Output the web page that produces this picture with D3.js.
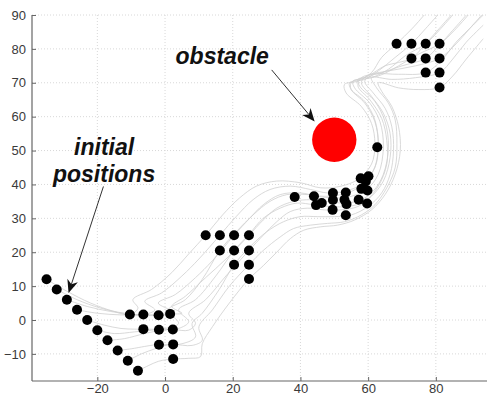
<!DOCTYPE html>
<html>
<head>
<meta charset="utf-8">
<script src="https://cdn.jsdelivr.net/npm/d3@7"></script>
<style>
  html, body { margin: 0; padding: 0; background: #fff; overflow: hidden; }
  svg { display: block; }
  .tick-label { font-family: "Liberation Sans", Arial, sans-serif; font-size: 13px; fill: #3a3a3a; }
  .note { font-family: "Liberation Sans", Arial, sans-serif; font-size: 23px; font-weight: bold; font-style: italic; fill: #111; }
</style>
</head>
<body>
<svg id="chart" width="487" height="396"></svg>
<script>
// Axis ticks
const xTicks = [-20, 0, 20, 40, 60, 80];
const yTicks = [-10, 0, 10, 20, 30, 40, 50, 60, 70, 80, 90];

// Initial positions (diagonal line of agents)
const initialX = [-35, -32, -29, -26, -23, -20, -17, -14, -11, -8];
const initialY = [12, 9, 6, 3, 0, -3, -6, -9, -12, -15];

// First formation
const form1X = [-10.4, -6.4, -1.9, 1.5, -6.4, -1.8, 2.3, -1.8, 2.4, 2.4];
const form1Y = [1.6, 1.6, 1.4, 1.8, -2.7, -2.9, -2.8, -7.3, -7.2, -11.5];

// Second formation
const form2X = [12.0, 16.2, 20.4, 24.8, 16.2, 20.4, 24.8, 20.4, 24.8, 24.8];
const form2Y = [25.0, 25.0, 25.0, 25.0, 20.5, 20.5, 20.5, 16.3, 16.3, 12.1];

// Agents spread out while passing the obstacle
const passX = [38.3, 44.0, 44.6, 46.3, 49.6, 49.6, 49.5, 53.4, 53.0, 53.6, 53.4, 57.2, 59.7, 58.0, 59.8, 57.8, 60.1, 59.3, 62.7];
const passY = [36.3, 36.5, 33.9, 34.5, 37.5, 35.4, 32.5, 37.6, 35.5, 34.2, 30.9, 35.5, 34.4, 38.7, 38.2, 41.8, 42.4, 40.9, 51.0];

// Final formation
const form3X = [68.4, 72.8, 77.0, 81.1, 72.8, 77.0, 81.1, 77.0, 81.1, 81.1];
const form3Y = [81.5, 81.5, 81.5, 81.5, 77.2, 77.2, 77.2, 73.0, 73.0, 68.6];

// Obstacle
const obstacleX = 50.0, obstacleY = 53.2, obstacleR = 6.55;

// Agent trajectories
const trajectories = [
  [[-35,12],[-29,8.5],[-22,5],[-15,2.5],[-10.4,1.6],[-8,3.5],[-9.5,6],[-4,9],[2,14],[7,19.5],[12,25],[17,31],[22,36],[27,39.5],[33,41],[40,40.5],[46,39],[52,39.5],[57,41.5],[61,46],[62,52],[61,58],[58,63],[53.5,67],[53,69.5],[57,70.5],[61,73],[64,77.5],[68.4,81.5],[73,86],[77,90.5]],
  [[-32,9],[-26,6],[-19,3.5],[-12,2],[-6.4,1.6],[-3,3],[-6,5.5],[-1,8],[5,13],[10,18],[16.2,25],[21,30.5],[26,35.5],[31,38.5],[37,39.5],[43,38.5],[48,37.5],[53,38],[58,40],[62,45],[63,52],[62,59],[59,64.5],[55,68],[54.5,70],[59,71],[63,73.5],[68,77.5],[72.8,81.5],[77,86],[81,90.5]],
  [[-29,6],[-23,4],[-16,2.5],[-8,1.5],[-1.9,1.4],[2,2.5],[-2,5],[3,7.5],[9,12.5],[14,17.5],[20.4,25],[25,30],[29,34],[34,37],[40,37.5],[45,36.5],[50,36],[55,36.5],[59.5,38.5],[63,43],[64.5,51],[63.5,58.5],[60.5,64],[56,68.5],[55.5,70.5],[61,71.5],[66,74],[71,78],[77,81.5],[81,85.5],[85,90]],
  [[-26,3],[-20,2],[-13,1.5],[-5,1.5],[1.5,1.8],[5,2],[2,4],[6,7],[12,12.5],[18,18],[24.8,25],[29,29.5],[33,33],[38,35],[43,35.5],[48,35],[53,34.5],[58,35.5],[61.5,38],[64.5,43],[66,51],[65,58.5],[62,64.5],[57.5,69],[57,71],[63,72],[69,75],[75,78.5],[81.1,81.5],[85,85.5],[89,90]],
  [[-23,0],[-18,-1.5],[-13,-2.5],[-9,-2.7],[-6.4,-2.7],[0,-2.5],[4,-1],[1,3],[6,6],[11,12],[16.2,20.5],[21,26],[26,31],[31,35],[36,37],[42,37],[47,36.5],[52,37],[57,39],[61.5,44],[63,51],[62,58.5],[59,64],[55,68],[55,70],[60,72],[65,75],[69,76],[72.8,77.2],[77,81.5],[81,86],[85,90.5]],
  [[-20,-3],[-15,-4],[-9,-3.5],[-4,-3],[-1.8,-2.9],[4,-2.5],[7,-0.5],[4,3],[9,6],[15,13],[20.4,20.5],[25,25.5],[29,30],[34,33],[39,34.5],[44,34],[49,33.5],[54,33.5],[59,35],[63,39.5],[65.5,46],[65.5,53],[64,59.5],[60.5,65],[57,69],[58,71.5],[64,73],[70,75],[77,77.2],[81,81],[86,86],[90,90.5]],
  [[-17,-6],[-12,-5.5],[-6,-4],[-1,-3],[2.3,-2.8],[7,-3],[9,-1],[7,2],[12,6],[18,13],[24.8,20.5],[29,25],[33,29],[37,32],[42,33],[47,32.5],[52,32.5],[57,33.5],[61,36.5],[64.5,41],[66.5,48],[66.5,55],[64.5,61],[61,66],[58,70],[59.5,72],[66,73.5],[74,75],[81.1,77.2],[86,81.5],[90,86],[94,90.5]],
  [[-14,-9],[-10,-8.5],[-6,-7.8],[-3.5,-7.4],[-1.8,-7.3],[5,-7],[9,-5],[8,-1],[11,2],[16,9],[20.4,16.3],[25,21.5],[30,26],[35,29],[40,30.5],[45,30.5],[50,30.5],[55,31],[60,33.5],[64,37.5],[66.5,43],[67.5,50],[67,57],[65,62.5],[61.5,67],[59,70.5],[62,72.5],[69,72.5],[77,73],[82,77],[86,82],[91,87],[94,90]],
  [[-11,-12],[-7,-10],[-3,-8.5],[0,-7.5],[2.4,-7.2],[8,-7.5],[11,-6],[10,-2],[14,3],[19,10],[24.8,16.3],[29,20.5],[34,24.5],[38,27],[43,28],[48,28.5],[53,29],[58,31],[62,34],[65.5,39],[68,45],[68.5,52],[68,59],[66,64],[62.5,68.5],[61,71.5],[67,71],[74,71.5],[81.1,73],[85,77],[89,82],[94,87]],
  [[-8,-15],[-5,-13.5],[-2,-12.2],[0.5,-11.7],[2.4,-11.5],[7,-11.3],[10.5,-10.8],[11,-7],[14,-2],[19,5],[24.8,12.1],[29,16],[33,20],[37,24],[41,26.5],[46,27.5],[51,28],[56,29.5],[61,32.5],[65,37],[68,43],[69.5,50],[69,57],[67,63],[64,67.5],[63,70],[69,68.5],[75,68],[81.1,68.6],[85,72],[89,77],[94,83]]
];

// Annotation labels and arrows (data coordinates)
const notes = [
  { lines: ["obstacle"], x: 16.9, y: 75.6 },
  { lines: ["initial", "positions"], x: -18.0, y: 48.8 }
];
const arrows = [
  { from: [31.5, 73.8], to: [44.2, 58.6] },
  { from: [-18.2, 39.4], to: [-28.5, 8.0] }
];

const W = 487, H = 396;
const plot = { left: 32, right: 490, top: 15, bottom: 381 };

const svg = d3.select("#chart");
const x = d3.scaleLinear().domain([-39.3, 96]).range([plot.left, plot.right]);
const y = d3.scaleLinear().domain([-18, 90]).range([plot.bottom, plot.top]);

svg.append("defs").append("clipPath").attr("id", "plot-clip")
  .append("rect").attr("x", plot.left).attr("y", plot.top)
  .attr("width", plot.right - plot.left).attr("height", plot.bottom - plot.top);

// Grid
const grid = svg.append("g");
grid.selectAll(".gx").data(xTicks).enter().append("line")
  .attr("x1", d => x(d)).attr("x2", d => x(d))
  .attr("y1", plot.top).attr("y2", plot.bottom)
  .attr("stroke", "#d8d8d8").attr("stroke-width", 1).attr("stroke-dasharray", "1,2");
grid.selectAll(".gy").data(yTicks).enter().append("line")
  .attr("x1", plot.left).attr("x2", W)
  .attr("y1", d => y(d)).attr("y2", d => y(d))
  .attr("stroke", "#d8d8d8").attr("stroke-width", 1).attr("stroke-dasharray", "1,2");

// Trajectories
const line = d3.line().x(d => x(d[0])).y(d => y(d[1])).curve(d3.curveCatmullRom.alpha(0.5));
svg.append("g").attr("clip-path", "url(#plot-clip)")
  .selectAll("path").data(trajectories).enter().append("path")
  .attr("d", line).attr("fill", "none")
  .attr("stroke", "#cfcfcf").attr("stroke-width", 0.8);

// Axes
const xAxis = d3.axisBottom(x).tickValues(xTicks).tickSize(-4).tickPadding(3).tickSizeOuter(0);
const yAxis = d3.axisLeft(y).tickValues(yTicks).tickSize(-4).tickPadding(6).tickSizeOuter(0);

const gx = svg.append("g").attr("transform", `translate(0,${plot.bottom})`).call(xAxis);
const gy = svg.append("g").attr("transform", `translate(${plot.left},0)`).call(yAxis);
[gx, gy].forEach(g => {
  g.select(".domain").attr("stroke", "#666").attr("stroke-width", 1.2);
  g.selectAll(".tick line").attr("stroke", "#666");
  g.selectAll(".tick text").attr("class", "tick-label").attr("fill", null);
});
gy.select(".domain").attr("d", `M0,${plot.top}V${plot.bottom}`);
gx.select(".domain").attr("d", `M${plot.left},0H${W}`);

// Obstacle
svg.append("circle")
  .attr("cx", x(obstacleX)).attr("cy", y(obstacleY))
  .attr("r", x(obstacleX + obstacleR) - x(obstacleX))
  .attr("fill", "#ff0000");

// Agent positions
const dots = svg.append("g");
function drawDots(xs, ys) {
  dots.selectAll(null).data(xs.map((v, i) => [v, ys[i]])).enter().append("circle")
    .attr("cx", d => x(d[0])).attr("cy", d => y(d[1])).attr("r", 5).attr("fill", "#000");
}
drawDots(initialX, initialY);
drawDots(form1X, form1Y);
drawDots(form2X, form2Y);
drawDots(passX, passY);
drawDots(form3X, form3Y);

// Arrows
const ag = svg.append("g");
arrows.forEach(a => {
  const x1 = x(a.from[0]), y1 = y(a.from[1]), x2 = x(a.to[0]), y2 = y(a.to[1]);
  const ang = Math.atan2(y2 - y1, x2 - x1);
  const len = 13, half = 5.5, back = 9;
  ag.append("line").attr("x1", x1).attr("y1", y1)
    .attr("x2", x2 - Math.cos(ang) * back).attr("y2", y2 - Math.sin(ang) * back)
    .attr("stroke", "#333").attr("stroke-width", 1);
  const bx = x2 - Math.cos(ang) * len, by = y2 - Math.sin(ang) * len;
  const nx = -Math.sin(ang), ny = Math.cos(ang);
  const mx = x2 - Math.cos(ang) * back, my = y2 - Math.sin(ang) * back;
  ag.append("path")
    .attr("d", `M${x2},${y2}L${bx + nx * half},${by + ny * half}L${mx},${my}L${bx - nx * half},${by - ny * half}Z`)
    .attr("fill", "#111");
});

// Annotation text
notes.forEach(n => {
  n.lines.forEach((t, i) => {
    svg.append("text").attr("class", "note")
      .attr("x", x(n.x)).attr("y", y(n.y) + i * 27.5)
      .attr("text-anchor", "middle").text(t);
  });
});
</script>
</body>
</html>
